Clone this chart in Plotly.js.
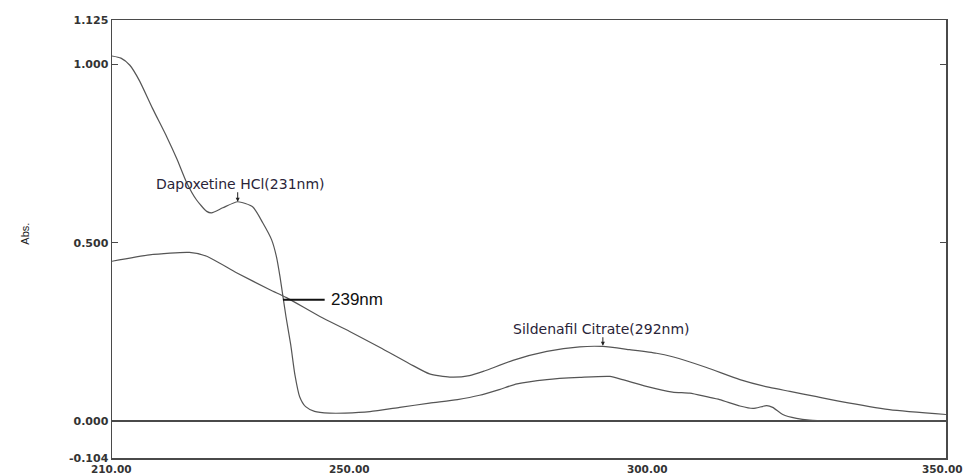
<!DOCTYPE html>
<html>
<head>
<meta charset="utf-8">
<script src="https://cdn.plot.ly/plotly-3.0.1.min.js"></script>
<style>html,body{margin:0;padding:0;background:#fff;}#chart{width:964px;height:474px;}</style>
</head>
<body>
<div id="chart"></div>
<script>
// Dapoxetine HCl spectrum
const wavelengthA = [210, 211.5, 213.0, 214.6, 216.8, 219.2, 220.9, 222.5, 224.2, 225.9, 226.7, 228.6, 231.1, 233.6, 235.3, 236.8, 237.6, 238.2, 238.7, 239.2, 240.0, 240.7, 241.5, 242.5, 244.0, 246.5, 249.1, 253.3, 258.3, 263.3, 268.0, 271.7, 275.0, 278.0, 283.0, 288.5, 293.6, 295.7, 299.7, 304.1, 307.0, 309.8, 312.0, 315.4, 317.6, 319.9, 320.9, 322.6, 324.9, 327.1, 330.5, 340, 350];
const absA = [1.024, 1.018, 0.998, 0.955, 0.877, 0.797, 0.735, 0.670, 0.620, 0.588, 0.584, 0.598, 0.615, 0.601, 0.556, 0.508, 0.461, 0.405, 0.349, 0.293, 0.214, 0.130, 0.068, 0.040, 0.027, 0.022, 0.022, 0.026, 0.038, 0.050, 0.060, 0.072, 0.088, 0.104, 0.116, 0.122, 0.125, 0.116, 0.097, 0.081, 0.078, 0.068, 0.060, 0.042, 0.035, 0.043, 0.038, 0.018, 0.007, 0.002, 0.000, 0.000, 0.000];

// Sildenafil Citrate spectrum
const wavelengthB = [210, 216.3, 223.0, 225.9, 230.9, 236.5, 239.3, 244.9, 249.9, 255.0, 260.0, 263.3, 266.7, 270.0, 272.5, 277.3, 283.0, 288.5, 292.4, 296.9, 301.4, 304.1, 309.8, 315.4, 320.4, 323.8, 328.3, 332.2, 340.5, 350];
const absB = [0.448, 0.466, 0.473, 0.462, 0.416, 0.368, 0.346, 0.293, 0.251, 0.206, 0.160, 0.132, 0.123, 0.127, 0.140, 0.170, 0.195, 0.208, 0.209, 0.200, 0.190, 0.180, 0.150, 0.116, 0.094, 0.083, 0.068, 0.055, 0.032, 0.018];

const xTickVals = [210, 250, 300, 350];
const xTickText = ['210.00', '250.00', '300.00', '350.00'];
const yTickVals = [-0.104, 0, 0.5, 1.0, 1.125];
const yTickText = ['-0.104', '0.000', '0.500', '1.000', '1.125'];

const lineStyle = {color: '#555', width: 1.2, shape: 'spline', smoothing: 0.6};

const traces = [
  {x: wavelengthA, y: absA, type: 'scatter', mode: 'lines', line: lineStyle, hoverinfo: 'skip'},
  {x: wavelengthB, y: absB, type: 'scatter', mode: 'lines', line: lineStyle, hoverinfo: 'skip'}
];

const tickFont = {family: 'DejaVu Sans', size: 11, color: '#333', weight: 'bold'};
const annFont = {family: 'DejaVu Sans', size: 14, color: '#2a2438'};

const xLabelAnns = xTickVals.map((v, i) => ({
  xref: 'x', yref: 'paper', x: v, y: 0, yanchor: 'top', xanchor: 'center',
  xshift: i === xTickVals.length - 1 ? -4 : -1, yshift: -3,
  text: xTickText[i], showarrow: false, font: {family: 'DejaVu Sans', size: 10.5, color: '#333', weight: 'bold'}
}));

const layout = {
  width: 964, height: 474,
  margin: {l: 112, r: 18, t: 20, b: 16, pad: 0},
  paper_bgcolor: '#fff', plot_bgcolor: '#fff',
  showlegend: false, hovermode: false,
  xaxis: {
    range: [210, 350], showline: true, mirror: true, linecolor: '#4a4a4a', linewidth: 1.5,
    ticks: '', tickvals: xTickVals, showticklabels: false,
    showgrid: false, zeroline: false
  },
  yaxis: {
    range: [-0.104, 1.125], showline: true, mirror: 'ticks', linecolor: '#4a4a4a', linewidth: 1.5,
    ticks: 'inside', ticklen: 6, tickcolor: '#4a4a4a', tickwidth: 1.2,
    tickvals: yTickVals, ticktext: yTickText, tickfont: tickFont,
    showgrid: false, zeroline: true, zerolinecolor: '#4a4a4a', zerolinewidth: 1.2
  },
  shapes: [
    {type: 'line', xref: 'x', yref: 'y', x0: 238.7, x1: 245.7, y0: 0.340, y1: 0.340, line: {color: '#111', width: 2}}
  ],
  annotations: [
    {xref: 'x', yref: 'y', x: 231.6, y: 0.666, text: 'Dapoxetine HCl(231nm)', showarrow: false, font: annFont},
    {xref: 'x', yref: 'y', x: 231.1, y: 0.615, text: '', showarrow: true, ax: 0, ay: -11, arrowhead: 2, arrowsize: 0.8, arrowwidth: 1, arrowcolor: '#222', standoff: 0},
    {xref: 'x', yref: 'y', x: 292.1, y: 0.259, text: 'Sildenafil Citrate(292nm)', showarrow: false, font: annFont},
    {xref: 'x', yref: 'y', x: 292.4, y: 0.211, text: '', showarrow: true, ax: 0, ay: -10, arrowhead: 2, arrowsize: 0.8, arrowwidth: 1, arrowcolor: '#222', standoff: 0},
    {xref: 'x', yref: 'y', x: 246.5, y: 0.340, xanchor: 'left', text: '239nm', showarrow: false, font: {family: 'Liberation Sans', size: 17, color: '#111'}},
    {xref: 'paper', yref: 'paper', x: -0.1044, y: 0.512, xanchor: 'center', yanchor: 'middle', text: 'Abs.', textangle: -90, showarrow: false, font: {family: 'Liberation Sans', size: 11, color: '#222'}}
  ].concat(xLabelAnns)
};

Plotly.newPlot('chart', traces, layout, {displayModeBar: false, staticPlot: true});
</script>
</body>
</html>
